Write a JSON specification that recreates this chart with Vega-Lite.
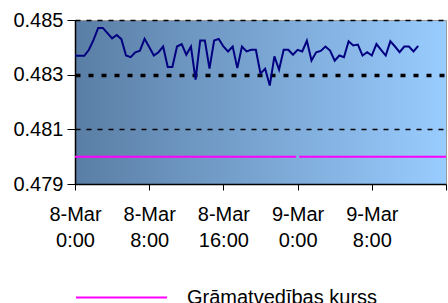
{
  "$schema": "https://vega.github.io/schema/vega-lite/v6.json",
  "width": 371,
  "height": 164,
  "autosize": {"type": "none"},
  "padding": {"left": 75, "top": 20, "right": 2, "bottom": 119},
  "background": "white",
  "config": {
    "font": "Liberation Sans",
    "view": {
      "stroke": "#9a9a9a",
      "strokeWidth": 1,
      "fill": {"gradient": "linear", "x1": 0, "y1": 0, "x2": 1, "y2": 0, "stops": [{"offset": 0, "color": "#5a7ea5"}, {"offset": 1, "color": "#99ccff"}]}
    }
  },
  "datasets": {
    "rate": [
      {"t": "2008-03-08T00:00:00Z", "v": 0.48369},
      {"t": "2008-03-08T00:30:00Z", "v": 0.48369},
      {"t": "2008-03-08T01:00:00Z", "v": 0.48369},
      {"t": "2008-03-08T01:30:00Z", "v": 0.48391},
      {"t": "2008-03-08T02:00:00Z", "v": 0.48427},
      {"t": "2008-03-08T02:30:00Z", "v": 0.48471},
      {"t": "2008-03-08T03:00:00Z", "v": 0.48471},
      {"t": "2008-03-08T03:30:00Z", "v": 0.48452},
      {"t": "2008-03-08T04:00:00Z", "v": 0.48433},
      {"t": "2008-03-08T04:30:00Z", "v": 0.48445},
      {"t": "2008-03-08T05:00:00Z", "v": 0.48430},
      {"t": "2008-03-08T05:30:00Z", "v": 0.48370},
      {"t": "2008-03-08T06:00:00Z", "v": 0.48364},
      {"t": "2008-03-08T06:30:00Z", "v": 0.48382},
      {"t": "2008-03-08T07:00:00Z", "v": 0.48388},
      {"t": "2008-03-08T07:30:00Z", "v": 0.48431},
      {"t": "2008-03-08T08:00:00Z", "v": 0.48401},
      {"t": "2008-03-08T08:30:00Z", "v": 0.48370},
      {"t": "2008-03-08T09:00:00Z", "v": 0.48382},
      {"t": "2008-03-08T09:30:00Z", "v": 0.48403},
      {"t": "2008-03-08T10:00:00Z", "v": 0.48328},
      {"t": "2008-03-08T10:30:00Z", "v": 0.48328},
      {"t": "2008-03-08T11:00:00Z", "v": 0.48403},
      {"t": "2008-03-08T11:30:00Z", "v": 0.48412},
      {"t": "2008-03-08T12:00:00Z", "v": 0.48373},
      {"t": "2008-03-08T12:30:00Z", "v": 0.48403},
      {"t": "2008-03-08T13:00:00Z", "v": 0.48282},
      {"t": "2008-03-08T13:30:00Z", "v": 0.48425},
      {"t": "2008-03-08T14:00:00Z", "v": 0.48425},
      {"t": "2008-03-08T14:30:00Z", "v": 0.48322},
      {"t": "2008-03-08T15:00:00Z", "v": 0.48425},
      {"t": "2008-03-08T15:30:00Z", "v": 0.48431},
      {"t": "2008-03-08T16:00:00Z", "v": 0.48403},
      {"t": "2008-03-08T16:30:00Z", "v": 0.48385},
      {"t": "2008-03-08T17:00:00Z", "v": 0.48403},
      {"t": "2008-03-08T17:30:00Z", "v": 0.48324},
      {"t": "2008-03-08T18:00:00Z", "v": 0.48403},
      {"t": "2008-03-08T18:30:00Z", "v": 0.48385},
      {"t": "2008-03-08T19:00:00Z", "v": 0.48391},
      {"t": "2008-03-08T19:30:00Z", "v": 0.48391},
      {"t": "2008-03-08T20:00:00Z", "v": 0.48304},
      {"t": "2008-03-08T20:30:00Z", "v": 0.48322},
      {"t": "2008-03-08T21:00:00Z", "v": 0.48260},
      {"t": "2008-03-08T21:30:00Z", "v": 0.48367},
      {"t": "2008-03-08T22:00:00Z", "v": 0.48318},
      {"t": "2008-03-08T22:30:00Z", "v": 0.48391},
      {"t": "2008-03-08T23:00:00Z", "v": 0.48391},
      {"t": "2008-03-08T23:30:00Z", "v": 0.48373},
      {"t": "2008-03-09T00:00:00Z", "v": 0.48391},
      {"t": "2008-03-09T00:30:00Z", "v": 0.48385},
      {"t": "2008-03-09T01:00:00Z", "v": 0.48424},
      {"t": "2008-03-09T01:30:00Z", "v": 0.48352},
      {"t": "2008-03-09T02:00:00Z", "v": 0.48382},
      {"t": "2008-03-09T02:30:00Z", "v": 0.48387},
      {"t": "2008-03-09T03:00:00Z", "v": 0.48403},
      {"t": "2008-03-09T03:30:00Z", "v": 0.48388},
      {"t": "2008-03-09T04:00:00Z", "v": 0.48351},
      {"t": "2008-03-09T04:30:00Z", "v": 0.48370},
      {"t": "2008-03-09T05:00:00Z", "v": 0.48364},
      {"t": "2008-03-09T05:30:00Z", "v": 0.48422},
      {"t": "2008-03-09T06:00:00Z", "v": 0.48407},
      {"t": "2008-03-09T06:30:00Z", "v": 0.48410},
      {"t": "2008-03-09T07:00:00Z", "v": 0.48370},
      {"t": "2008-03-09T07:30:00Z", "v": 0.48382},
      {"t": "2008-03-09T08:00:00Z", "v": 0.48370},
      {"t": "2008-03-09T08:30:00Z", "v": 0.48412},
      {"t": "2008-03-09T09:00:00Z", "v": 0.48391},
      {"t": "2008-03-09T09:30:00Z", "v": 0.48370},
      {"t": "2008-03-09T10:00:00Z", "v": 0.48422},
      {"t": "2008-03-09T10:30:00Z", "v": 0.48403},
      {"t": "2008-03-09T11:00:00Z", "v": 0.48382},
      {"t": "2008-03-09T11:30:00Z", "v": 0.48403},
      {"t": "2008-03-09T12:00:00Z", "v": 0.48403},
      {"t": "2008-03-09T12:30:00Z", "v": 0.48385},
      {"t": "2008-03-09T13:00:00Z", "v": 0.48405}
    ],
    "ref": [
      {"t": "2008-03-08T00:00:00Z", "v": 0.480, "seg": "a", "series": "Grāmatvedības kurss"},
      {"t": "2008-03-08T23:50:00Z", "v": 0.480, "seg": "a", "series": "Grāmatvedības kurss"},
      {"t": "2008-03-09T00:10:00Z", "v": 0.480, "seg": "b", "series": "Grāmatvedības kurss"},
      {"t": "2008-03-09T16:00:00Z", "v": 0.480, "seg": "b", "series": "Grāmatvedības kurss"}
    ]
  },
  "layer": [
    {
      "data": {"name": "ref"},
      "mark": {"type": "line", "strokeWidth": 2},
      "encoding": {
        "x": {
          "field": "t",
          "type": "temporal",
          "scale": {
            "type": "utc",
            "nice": false,
            "domain": [
              {"year": 2008, "month": 3, "date": 8, "hours": 0, "utc": true},
              {"year": 2008, "month": 3, "date": 9, "hours": 16, "utc": true}
            ]
          },
          "axis": {
            "title": null,
            "grid": false,
            "values": [
              {"year": 2008, "month": 3, "date": 8, "hours": 0, "utc": true},
              {"year": 2008, "month": 3, "date": 8, "hours": 8, "utc": true},
              {"year": 2008, "month": 3, "date": 8, "hours": 16, "utc": true},
              {"year": 2008, "month": 3, "date": 9, "hours": 0, "utc": true},
              {"year": 2008, "month": 3, "date": 9, "hours": 8, "utc": true},
              {"year": 2008, "month": 3, "date": 9, "hours": 16, "utc": true}
            ],
            "labelExpr": "(utcdate(datum.value) == 9 && utchours(datum.value) == 16) ? '' : [utcFormat(datum.value, '%-d-%b'), utcFormat(datum.value, '%-H:%M')]",
            "labelFontSize": 20,
            "labelLineHeight": 26,
            "labelColor": "black",
            "labelFlush": false,
            "labelOverlap": false,
            "labelPadding": 14,
            "tickSize": 6,
            "tickColor": "black",
            "domainColor": "black",
            "domainWidth": 1.5
          }
        },
        "y": {
          "field": "v",
          "type": "quantitative",
          "scale": {"domain": [0.479, 0.485], "nice": false, "zero": false},
          "axis": {
            "title": null,
            "values": [0.479, 0.481, 0.483, 0.485],
            "format": ".3f",
            "labelFontSize": 20,
            "labelColor": "black",
            "labelPadding": 4,
            "tickSize": 8,
            "tickColor": "black",
            "domainColor": "black",
            "domainWidth": 1.5,
            "grid": true,
            "gridColor": "black",
            "gridOpacity": {"condition": {"test": "datum.value < 0.4795", "value": 0}, "value": 1},
            "gridWidth": {"condition": {"test": "datum.value > 0.4825 && datum.value < 0.4835", "value": 3.5}, "value": 1.5},
            "gridDash": {"condition": {"test": "datum.value > 0.4825 && datum.value < 0.4835", "value": [5, 8]}, "value": [5, 6]}
          }
        },
        "detail": {"field": "seg"},
        "color": {
          "field": "series",
          "type": "nominal",
          "scale": {"domain": ["Grāmatvedības kurss"], "range": ["#ff00ff"]},
          "legend": {
            "title": null,
            "orient": "none",
            "legendX": 0,
            "legendY": 231,
            "symbolType": "stroke",
            "symbolSize": 8281,
            "symbolStrokeWidth": 2,
            "labelFontSize": 20,
            "labelColor": "black",
            "labelOffset": 19,
            "labelLimit": 300
          }
        }
      }
    },
    {
      "data": {"name": "rate"},
      "mark": {"type": "line", "color": "#000080", "strokeWidth": 2},
      "encoding": {
        "x": {"field": "t", "type": "temporal"},
        "y": {"field": "v", "type": "quantitative"}
      }
    }
  ]
}
